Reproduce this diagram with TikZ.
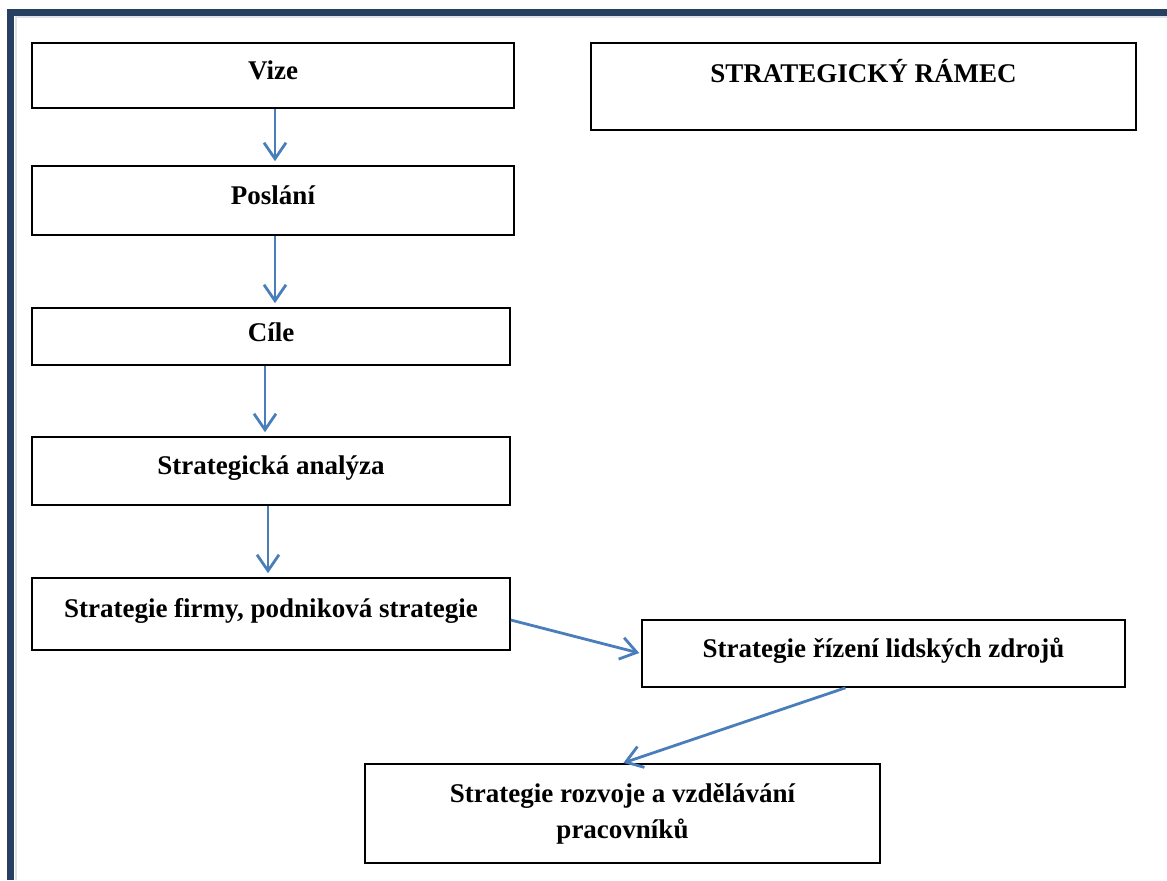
\documentclass[tikz,border=0pt]{standalone}
\usepackage{fontspec}
\setmainfont{Liberation Serif}
\usepackage{xcolor}
\usepackage{tikz}
\usetikzlibrary{arrows.meta}
\definecolor{ramcol}{RGB}{39,64,98}
\definecolor{sipka}{RGB}{74,126,187}

\begin{document}
\begin{tikzpicture}[x=0.5pt, y=-0.5pt,
  every node/.style={font=\fontsize{13.5}{18}\selectfont\bfseries},
  box/.style={draw, line width=0.8pt, inner sep=0pt},
  oneline/.style={text height=0.7em, text depth=0.35em},
  flow/.style={sipka, line width=1.4pt, -{Straight Barb[length=8pt, width=11pt]}, shorten >=2pt}]
  \useasboundingbox (0,0) rectangle (1167,880);

  % frame of the page
  \draw[ramcol, line width=3.5pt] (10.5,880) -- (10.5,12.5) -- (1167,12.5);
  \draw[ramcol!15, line width=1pt] (15.5,880) -- (15.5,17) -- (1167,17);

  \node[box, oneline, minimum width=241pt, minimum height=32.5pt]
    (vize) at (273,75.5) {Vize};
  \node[box, oneline, text depth=1.1em, minimum width=272.5pt, minimum height=43.5pt]
    (ramec) at (863.5,86.5) {STRATEGICKÝ RÁMEC};
  \node[box, oneline, minimum width=241pt, minimum height=34.5pt]
    (poslani) at (273,200.5) {Poslání};
  \node[box, oneline, text depth=0.2em, minimum width=239pt, minimum height=28.5pt]
    (cile) at (271,336.5) {Cíle};
  \node[box, oneline, minimum width=239pt, minimum height=34pt]
    (analyza) at (271,471) {Strategická analýza};
  \node[box, oneline, minimum width=239pt, minimum height=36pt]
    (firma) at (271,614) {Strategie firmy, podniková strategie};
  \node[box, oneline, minimum width=241.5pt, minimum height=33.5pt]
    (rizeni) at (883.5,653.5) {Strategie řízení lidských zdrojů};
  \node[box, align=center, minimum width=257.5pt, minimum height=49.5pt]
    (rozvoj) at (622.5,813.5) {Strategie rozvoje a vzdělávání\\pracovníků};

  \draw[flow] ([xshift=1pt]vize.south) -- ([xshift=1pt]poslani.north);
  \draw[flow] ([xshift=1pt]poslani.south) -- ([xshift=2pt]cile.north);
  \draw[flow] ([xshift=-3pt]cile.south) -- ([xshift=-3pt]analyza.north);
  \draw[flow] ([xshift=-1.5pt]analyza.south) -- ([xshift=-1.5pt]firma.north);
  \draw[flow, shorten >=1pt] ([yshift=-3pt]firma.east) -- (rizeni.west);
  \draw[flow, shorten >=0.5pt] ([xshift=-19pt]rizeni.south) -- (rozvoj.north);
\end{tikzpicture}
\end{document}
